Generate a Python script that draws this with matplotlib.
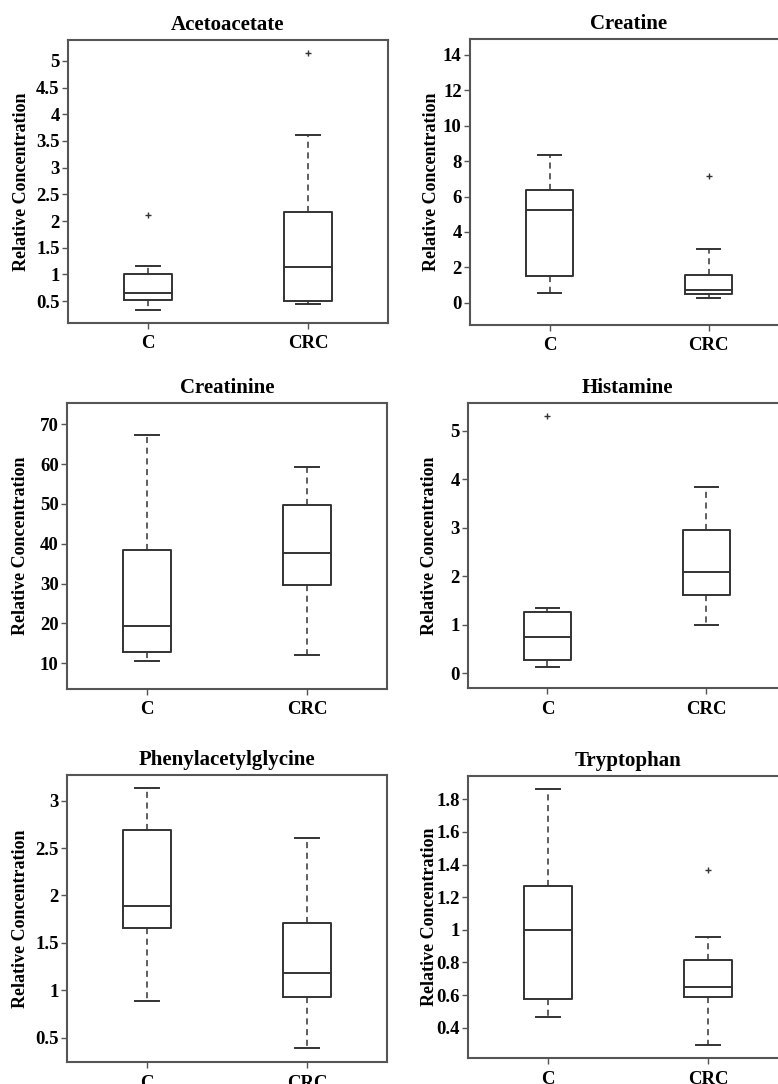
import matplotlib
matplotlib.use("Agg")
import matplotlib.pyplot as plt

plt.rcParams['font.family'] = ['Liberation Serif', 'DejaVu Serif']
plt.rcParams['font.weight'] = 'bold'

# ---------- Data ----------
groups = ["C", "CRC"]
titles = ["Acetoacetate", "Creatine", "Creatinine",
          "Histamine", "Phenylacetylglycine", "Tryptophan"]

# each row: [whisker low, Q1, median, Q3, whisker high]
acetoacetate = [[0.33, 0.53, 0.66, 1.00, 1.15], [0.44, 0.50, 1.13, 2.17, 3.61]]
acetoacetate_out = [[2.12], [5.15]]
creatine = [[0.53, 1.51, 5.24, 6.37, 8.35], [0.28, 0.49, 0.72, 1.55, 3.02]]
creatine_out = [[], [7.16]]
creatinine = [[10.7, 12.8, 19.4, 38.4, 67.3], [12.0, 29.6, 37.6, 49.7, 59.3]]
creatinine_out = [[], []]
histamine = [[0.14, 0.27, 0.75, 1.27, 1.35], [0.99, 1.62, 2.09, 2.95, 3.83]]
histamine_out = [[5.30], []]
phenylacetylglycine = [[0.89, 1.66, 1.89, 2.69, 3.13], [0.39, 0.93, 1.18, 1.71, 2.61]]
phenylacetylglycine_out = [[], []]
tryptophan = [[0.467, 0.576, 1.0, 1.269, 1.863], [0.294, 0.588, 0.65, 0.813, 0.957]]
tryptophan_out = [[], [1.368]]

all_stats = [acetoacetate, creatine, creatinine, histamine,
             phenylacetylglycine, tryptophan]
all_out = [acetoacetate_out, creatine_out, creatinine_out, histamine_out,
           phenylacetylglycine_out, tryptophan_out]

yticks = [
    ([0.5, 1, 1.5, 2, 2.5, 3, 3.5, 4, 4.5, 5], ["0.5", "1", "1.5", "2", "2.5", "3", "3.5", "4", "4.5", "5"]),
    ([0, 2, 4, 6, 8, 10, 12, 14], ["0", "2", "4", "6", "8", "10", "12", "14"]),
    ([10, 20, 30, 40, 50, 60, 70], ["10", "20", "30", "40", "50", "60", "70"]),
    ([0, 1, 2, 3, 4, 5], ["0", "1", "2", "3", "4", "5"]),
    ([0.5, 1, 1.5, 2, 2.5, 3], ["0.5", "1", "1.5", "2", "2.5", "3"]),
    ([0.4, 0.6, 0.8, 1, 1.2, 1.4, 1.6, 1.8], ["0.4", "0.6", "0.8", "1", "1.2", "1.4", "1.6", "1.8"]),
]
ylims = [(0.09, 5.39), (-1.26, 14.9), (3.55, 75.35),
         (-0.30, 5.57), (0.243, 3.27), (0.214, 1.943)]

# axes boxes in pixels: left, top, right, bottom
boxes = [(68, 40, 388, 323), (470, 39, 788, 325),
         (67, 403, 387, 689), (468, 403, 786, 688),
         (67, 775, 387, 1062), (468, 776, 788, 1058)]

W, H = 778, 1084
fig = plt.figure(figsize=(W / 100, H / 100), dpi=100)

line_c = "#333333"
frame_c = "#555555"

for i in range(6):
    l, t, r, b = boxes[i]
    ax = fig.add_axes([l / W, 1 - b / H, (r - l) / W, (b - t) / H])
    stats = []
    for g in range(2):
        lo, q1, med, q3, hi = all_stats[i][g]
        stats.append(dict(whislo=lo, q1=q1, med=med, q3=q3, whishi=hi,
                          fliers=all_out[i][g], label=groups[g]))
    ax.bxp(stats, positions=[1, 2], widths=0.3, showfliers=True,
           boxprops=dict(color=line_c, linewidth=1.4),
           medianprops=dict(color=line_c, linewidth=1.4),
           whiskerprops=dict(color=line_c, linewidth=1.1, linestyle=(0, (4, 3))),
           capprops=dict(color=line_c, linewidth=1.4),
           flierprops=dict(marker='+', markersize=4, markeredgecolor=line_c,
                           markeredgewidth=1.0))
    ax.set_xlim(0.5, 2.5)
    ax.set_ylim(*ylims[i])
    ax.set_yticks(yticks[i][0])
    ax.set_yticklabels(yticks[i][1], fontsize=13.5, fontweight='bold')
    ax.set_xticks([1, 2])
    ax.set_xticklabels(groups, fontsize=13.5, fontweight='bold')
    ax.tick_params(direction='out', length=4, width=1.0, color=frame_c, pad=2)
    ax.tick_params(axis='x', pad=5)
    for s in ax.spines.values():
        s.set_color(frame_c)
        s.set_linewidth(1.5)
    ax.set_title(titles[i], fontsize=15, fontweight='bold', pad=7)
    ax.set_ylabel("Relative Concentration", fontsize=13, fontweight='bold')
    off = 38 if i % 2 == 0 else 30
    ax.yaxis.set_label_coords(-off / (r - l), 0.5)

fig.savefig("out.png", dpi=100)
